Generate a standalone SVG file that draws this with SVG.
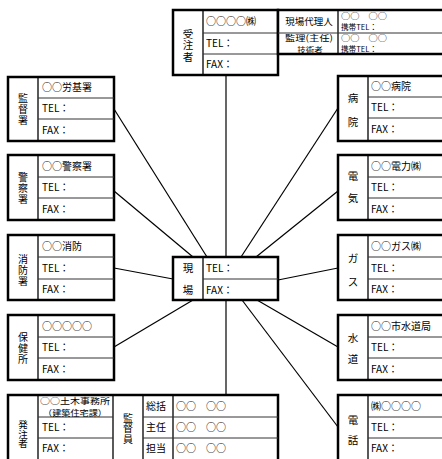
<svg xmlns="http://www.w3.org/2000/svg" width="442" height="459" viewBox="0 0 442 459">
<style>
.box{fill:#fff;stroke:#000;stroke-width:2.5}
.dv{stroke:#000;stroke-width:1.3;fill:none}
.rw{stroke:#333;stroke-width:1;fill:none}
.conn{stroke:#000;stroke-width:1.2;fill:none}
text{font-family:"Noto Sans CJK JP","Noto Sans",sans-serif;font-size:10px;fill:#000}
.lbl{font-size:10.5px;text-anchor:middle}
.vl{font-size:10px;text-anchor:middle;writing-mode:vertical-rl;letter-spacing:1px}
.sm{font-size:8.5px}
.xs{font-size:7.6px}
.mid{text-anchor:middle}
</style>
<rect width="442" height="459" fill="#fff"/>
<g id="connectors">
<line class="conn" x1="226" y1="75" x2="226" y2="257"/>
<line class="conn" x1="114" y1="109" x2="207" y2="257"/>
<line class="conn" x1="114" y1="191" x2="193" y2="257"/>
<line class="conn" x1="114" y1="268" x2="173" y2="279"/>
<line class="conn" x1="114" y1="347" x2="193" y2="300"/>
<line class="conn" x1="338" y1="108" x2="241" y2="257"/>
<line class="conn" x1="338" y1="191" x2="256" y2="257"/>
<line class="conn" x1="338" y1="268" x2="278" y2="280"/>
<line class="conn" x1="338" y1="347" x2="257" y2="300"/>
<line class="conn" x1="338" y1="427" x2="242" y2="300"/>
<line class="conn" x1="226" y1="300" x2="226" y2="395"/>
</g>
<g id="jutyusha">
<rect class="box" x="173" y="10" width="105" height="65"/>
<line class="dv" x1="203" y1="10" x2="203" y2="75"/>
<line class="rw" x1="203" y1="33" x2="278" y2="33"/>
<line class="rw" x1="203" y1="54" x2="278" y2="54"/>
<text class="vl" x="188" y="46" style="font-size:10.5px;letter-spacing:1px">受注者</text>
<text x="206" y="25">○○○○㈱</text>
<text x="206" y="47">TEL：</text>
<text x="206" y="68">FAX：</text>
</g>
<g id="dairinin">
<rect class="box" x="278" y="10" width="172" height="44"/>
<line class="dv" x1="338" y1="10" x2="338" y2="54"/>
<line class="rw" x1="278" y1="33" x2="450" y2="33"/>
<text class="mid" x="309" y="25" style="font-size:9.5px">現場代理人</text>
<text class="sm mid" x="309" y="40.5" textLength="48" lengthAdjust="spacingAndGlyphs">監理(主任)</text>
<text class="sm mid" x="310" y="52.9">技術者</text>
<text class="xs" x="341" y="18.8" textLength="46" lengthAdjust="spacingAndGlyphs">○○　○○</text>
<text class="xs" x="341" y="29.9" textLength="36" lengthAdjust="spacingAndGlyphs">携帯TEL：</text>
<text class="xs" x="341" y="41" textLength="46" lengthAdjust="spacingAndGlyphs">○○　○○</text>
<text class="xs" x="341" y="52.1" textLength="36" lengthAdjust="spacingAndGlyphs">携帯TEL：</text>
</g>
<g id="kantokusho">
<rect class="box" x="8" y="77" width="106" height="64"/>
<line class="dv" x1="38" y1="77" x2="38" y2="141"/>
<line class="rw" x1="38" y1="98" x2="114" y2="98"/>
<line class="rw" x1="38" y1="119" x2="114" y2="119"/>
<text class="vl" x="23" y="110">監督署</text>
<text x="42" y="91">○○労基署</text>
<text x="42" y="112">TEL：</text>
<text x="42" y="134">FAX：</text>
</g>
<g id="keisatsusho">
<rect class="box" x="8" y="155" width="106" height="65"/>
<line class="dv" x1="38" y1="155" x2="38" y2="220"/>
<line class="rw" x1="38" y1="177" x2="114" y2="177"/>
<line class="rw" x1="38" y1="198" x2="114" y2="198"/>
<text class="vl" x="23" y="189">警察署</text>
<text x="42" y="170">○○警察署</text>
<text x="42" y="191">TEL：</text>
<text x="42" y="213">FAX：</text>
</g>
<g id="shobosho">
<rect class="box" x="8" y="235" width="106" height="65"/>
<line class="dv" x1="38" y1="235" x2="38" y2="300"/>
<line class="rw" x1="38" y1="257" x2="114" y2="257"/>
<line class="rw" x1="38" y1="279" x2="114" y2="279"/>
<text class="vl" x="23" y="271">消防署</text>
<text x="42" y="250">○○消防</text>
<text x="42" y="272">TEL：</text>
<text x="42" y="293">FAX：</text>
</g>
<g id="hokenjo">
<rect class="box" x="8" y="315" width="106" height="65"/>
<line class="dv" x1="38" y1="315" x2="38" y2="380"/>
<line class="rw" x1="38" y1="337" x2="114" y2="337"/>
<line class="rw" x1="38" y1="358" x2="114" y2="358"/>
<text class="vl" x="23" y="349">保健所</text>
<text x="42" y="330">○○○○○</text>
<text x="42" y="351">TEL：</text>
<text x="42" y="373">FAX：</text>
</g>
<g id="genba">
<rect class="box" x="173" y="257" width="105" height="43"/>
<line class="dv" x1="203" y1="257" x2="203" y2="300"/>
<line class="rw" x1="203" y1="279" x2="278" y2="279"/>
<text class="lbl" x="188" y="272">現</text>
<text class="lbl" x="188" y="294">場</text>
<text x="206" y="272">TEL：</text>
<text x="206" y="294">FAX：</text>
</g>
<g id="byoin">
<rect class="box" x="338" y="76" width="112" height="65"/>
<line class="dv" x1="368" y1="76" x2="368" y2="141"/>
<line class="rw" x1="368" y1="97" x2="450" y2="97"/>
<line class="rw" x1="368" y1="118" x2="450" y2="118"/>
<text class="lbl" x="353" y="102">病</text>
<text class="lbl" x="353" y="126">院</text>
<text x="371" y="90">○○病院</text>
<text x="371" y="111">TEL：</text>
<text x="371" y="133">FAX：</text>
</g>
<g id="denki">
<rect class="box" x="338" y="155" width="112" height="65"/>
<line class="dv" x1="368" y1="155" x2="368" y2="220"/>
<line class="rw" x1="368" y1="177" x2="450" y2="177"/>
<line class="rw" x1="368" y1="198" x2="450" y2="198"/>
<text class="lbl" x="353" y="180">電</text>
<text class="lbl" x="353" y="202">気</text>
<text x="371" y="170">○○電力㈱</text>
<text x="371" y="191">TEL：</text>
<text x="371" y="213">FAX：</text>
</g>
<g id="gas">
<rect class="box" x="338" y="235" width="112" height="65"/>
<line class="dv" x1="368" y1="235" x2="368" y2="300"/>
<line class="rw" x1="368" y1="257" x2="450" y2="257"/>
<line class="rw" x1="368" y1="279" x2="450" y2="279"/>
<text class="lbl" x="353" y="262">ガ</text>
<text class="lbl" x="353" y="286">ス</text>
<text x="371" y="250">○○ガス㈱</text>
<text x="371" y="272">TEL：</text>
<text x="371" y="293">FAX：</text>
</g>
<g id="suido">
<rect class="box" x="338" y="315" width="112" height="65"/>
<line class="dv" x1="368" y1="315" x2="368" y2="380"/>
<line class="rw" x1="368" y1="337" x2="450" y2="337"/>
<line class="rw" x1="368" y1="358" x2="450" y2="358"/>
<text class="lbl" x="353" y="342">水</text>
<text class="lbl" x="353" y="363">道</text>
<text x="371" y="330">○○市水道局</text>
<text x="371" y="351">TEL：</text>
<text x="371" y="373">FAX：</text>
</g>
<g id="denwa">
<rect class="box" x="338" y="395" width="112" height="80"/>
<line class="dv" x1="368" y1="395" x2="368" y2="475"/>
<line class="rw" x1="368" y1="417" x2="450" y2="417"/>
<line class="rw" x1="368" y1="438" x2="450" y2="438"/>
<text class="lbl" x="353" y="424">電</text>
<text class="lbl" x="353" y="444">話</text>
<text x="371" y="410">㈱○○○○</text>
<text x="371" y="431">TEL：</text>
<text x="371" y="452">FAX：</text>
</g>
<g id="hatchusha">
<rect class="box" x="8" y="395" width="270" height="80"/>
<line class="dv" x1="38" y1="395" x2="38" y2="475"/>
<line class="dv" x1="113" y1="395" x2="113" y2="475"/>
<line class="dv" x1="143" y1="395" x2="143" y2="475"/>
<line class="dv" x1="173" y1="395" x2="173" y2="475"/>
<line class="rw" x1="38" y1="417" x2="113" y2="417"/>
<line class="rw" x1="38" y1="438" x2="113" y2="438"/>
<line class="rw" x1="143" y1="417" x2="278" y2="417"/>
<line class="rw" x1="143" y1="438" x2="278" y2="438"/>
<text class="vl" x="23" y="434" style="font-size:9.5px;letter-spacing:0px">発注者</text>
<text class="sm" x="40" y="403.5" textLength="70" lengthAdjust="spacingAndGlyphs">○○土木事務所</text>
<text class="sm" x="43" y="415.9" textLength="64" lengthAdjust="spacingAndGlyphs">（建築住宅課）</text>
<text x="42" y="431">TEL：</text>
<text x="42" y="452">FAX：</text>
<text class="vl" x="128" y="428.5" style="letter-spacing:0.5px">監督員</text>
<text x="146" y="410">総括</text>
<text x="146" y="431">主任</text>
<text x="146" y="452">担当</text>
<text x="176" y="410">○○　○○</text>
<text x="176" y="431">○○　○○</text>
<text x="176" y="452">○○　○○</text>
</g>
</svg>
